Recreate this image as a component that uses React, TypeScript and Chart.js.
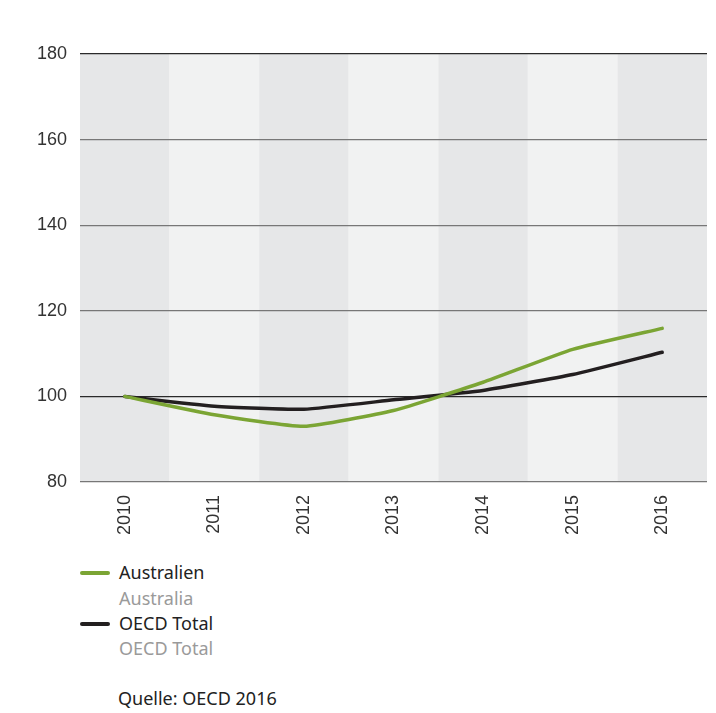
import React, { useEffect, useRef } from "react";
import { Chart, registerables } from "chart.js";

Chart.register(...registerables);

const years = ["2010", "2011", "2012", "2013", "2014", "2015", "2016"];
const australia = [100, 95.7, 93.0, 96.7, 103.3, 111.0, 115.9];
const oecd = [100, 97.7, 97.0, 99.2, 101.4, 105.1, 110.3];
const yTicks = [80, 100, 120, 140, 160, 180];

const GREEN = "#7ba534";
const BLACK = "#231f20";

const bandsPlugin = {
  id: "bands",
  beforeDraw(chart: any) {
    const { ctx, chartArea, scales } = chart;
    const x = scales.x;
    const n = years.length;
    const w = (chartArea.right - chartArea.left) / n;
    ctx.save();
    for (let i = 0; i < n; i++) {
      const c = x.getPixelForValue(i);
      ctx.fillStyle = i % 2 === 0 ? "#e6e7e8" : "#f1f2f2";
      ctx.fillRect(c - w / 2, chartArea.top, w, chartArea.bottom - chartArea.top);
    }
    ctx.restore();
  },
};

export default function App() {
  const ref = useRef<HTMLCanvasElement>(null);
  useEffect(() => {
    if (!ref.current) return;
    const chart = new Chart(ref.current, {
      type: "line",
      data: {
        labels: years,
        datasets: [
          {
            label: "Australien",
            data: australia,
            borderColor: GREEN,
            backgroundColor: GREEN,
            borderWidth: 3.5,
            pointRadius: 0,
            tension: 0.15,
            borderCapStyle: "round",
          },
          {
            label: "OECD Total",
            data: oecd,
            borderColor: BLACK,
            backgroundColor: BLACK,
            borderWidth: 3.5,
            pointRadius: 0,
            tension: 0.15,
            borderCapStyle: "round",
          },
        ],
      },
      options: {
        responsive: false,
        animation: false,
        layout: { padding: { top: 54, right: 9, left: 0, bottom: 0 } },
        plugins: { legend: { display: false }, tooltip: { enabled: false } },
        scales: {
          x: {
            offset: true,
            grid: { display: false, drawTicks: false },
            border: { display: false },
            ticks: {
              minRotation: 90,
              maxRotation: 90,
              padding: 13,
              color: "#333",
              font: { family: "'Liberation Sans', Arial, sans-serif", size: 18 },
            },
            afterFit(s: any) {
              s.height = 545 - 482;
            },
          },
          y: {
            min: 80,
            max: 180,
            afterBuildTicks(s: any) {
              s.ticks = yTicks.map((v) => ({ value: v }));
            },
            grid: {
              drawTicks: false,
              lineWidth: 1.2,
              color: (c: any) =>
                c.tick && (c.tick.value === 180 || c.tick.value === 100) ? "#2a2a2a" : "#777",
            },
            border: { display: false },
            ticks: {
              padding: 13,
              color: "#333",
              font: { family: "'Liberation Sans', Arial, sans-serif", size: 18 },
            },
            afterFit(s: any) {
              s.width = 80;
            },
          },
        },
      },
      plugins: [bandsPlugin],
    });
    return () => chart.destroy();
  }, []);

  const txt = (top: number, text: string, color: string, left = 119) => (
    <div
      style={{
        position: "absolute",
        left,
        top,
        lineHeight: "25px",
        fontSize: 18,
        fontFamily: "'Noto Sans', sans-serif",
        color,
        whiteSpace: "nowrap",
      }}
    >
      {text}
    </div>
  );

  return (
    <div
      style={{
        position: "fixed",
        left: 0,
        top: 0,
        width: 716,
        height: 713,
        background: "#fff",
        overflow: "hidden",
      }}
    >
      <canvas ref={ref} width={716} height={545} style={{ position: "absolute", left: 0, top: 0 }} />
      <div style={{ position: "absolute", left: 80, top: 571, width: 30, height: 3.5, background: GREEN, borderRadius: 2 }} />
      {txt(560, "Australien", "#222")}
      {txt(586, "Australia", "#9a9a9a")}
      <div style={{ position: "absolute", left: 80, top: 622, width: 30, height: 3.5, background: BLACK, borderRadius: 2 }} />
      {txt(611, "OECD Total", "#222")}
      {txt(636, "OECD Total", "#9a9a9a")}
      {txt(686, "Quelle: OECD 2016", "#222", 118)}
    </div>
  );
}
